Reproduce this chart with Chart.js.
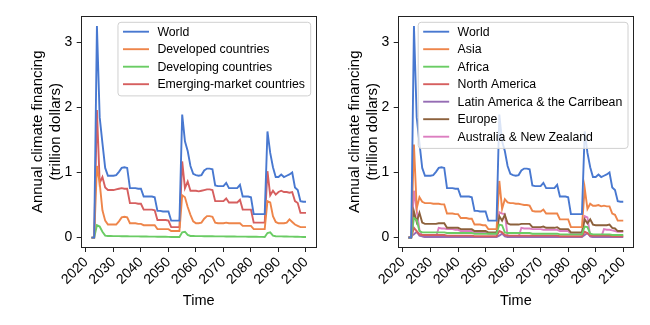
<!DOCTYPE html>
<html><head><meta charset="utf-8">
<script src="https://cdn.jsdelivr.net/npm/chart.js@4.4.0/dist/chart.umd.min.js"></script>
<style>
html,body{margin:0;padding:0;background:#fff;width:650px;height:325px;overflow:hidden}
canvas{position:absolute;top:0}
#c1{left:0}
#c2{left:325px}
</style></head><body>
<canvas id="c1" width="325" height="325"></canvas>
<canvas id="c2" width="325" height="325"></canvas>
<script>
// ---- data (2022 .. 2100, yearly) ----
const years = [
 2022,2023,2024,2025,2026,2027,2028,2029,2030,2031,
 2032,2033,2034,2035,2036,2037,2038,2039,2040,2041,
 2042,2043,2044,2045,2046,2047,2048,2049,2050,2051,
 2052,2053,2054,2055,2056,2057,2058,2059,2060,2061,
 2062,2063,2064,2065,2066,2067,2068,2069,2070,2071,
 2072,2073,2074,2075,2076,2077,2078,2079,2080,2081,
 2082,2083,2084,2085,2086,2087,2088,2089,2090,2091,
 2092,2093,2094,2095,2096,2097,2098,2099,2100];
const xTicks = [2020,2030,2040,2050,2060,2070,2080,2090,2100];
const yTicks = [0,1,2,3];

const world = [
 0,0,3.25,1.85,1.45,1.07,0.95,0.95,0.95,0.96,
 1.01,1.07,1.08,1.07,0.76,0.76,0.76,0.75,0.75,0.63,
 0.63,0.63,0.63,0.62,0.41,0.41,0.40,0.40,0.40,0.26,
 0.26,0.26,0.26,1.89,1.48,1.33,1.10,0.98,0.96,0.95,
 0.96,1.03,1.06,1.06,1.05,0.80,0.79,0.79,0.79,0.84,
 0.76,0.76,0.76,0.76,0.81,0.63,0.63,0.63,0.62,0.36,
 0.36,0.36,0.36,0.36,1.63,1.30,1.08,0.93,0.93,0.97,
 0.93,0.95,0.97,1.00,0.77,0.73,0.56,0.55,0.55];
const developed = [
 0,0,1.10,0.84,0.42,0.26,0.20,0.20,0.20,0.20,
 0.25,0.31,0.32,0.31,0.22,0.22,0.22,0.21,0.21,0.19,
 0.19,0.19,0.19,0.19,0.13,0.13,0.13,0.13,0.13,0.10,
 0.10,0.10,0.10,0.65,0.62,0.47,0.35,0.25,0.22,0.22,
 0.23,0.29,0.33,0.33,0.32,0.23,0.22,0.22,0.22,0.23,
 0.22,0.22,0.22,0.22,0.22,0.18,0.18,0.18,0.18,0.13,
 0.13,0.13,0.13,0.13,0.56,0.54,0.33,0.24,0.22,0.22,
 0.22,0.23,0.28,0.24,0.20,0.18,0.16,0.16,0.16];
const developing = [
 0,0,0.19,0.17,0.09,0.03,0.025,0.024,0.023,0.022,
 0.022,0.021,0.021,0.020,0.019,0.019,0.018,0.018,0.017,0.016,
 0.016,0.015,0.015,0.014,0.013,0.013,0.012,0.012,0.011,0.010,
 0.010,0.010,0.010,0.08,0.09,0.04,0.025,0.024,0.023,0.022,
 0.022,0.021,0.021,0.020,0.020,0.019,0.019,0.018,0.018,0.017,
 0.017,0.016,0.016,0.015,0.015,0.014,0.014,0.013,0.013,0.012,
 0.012,0.011,0.011,0.010,0.07,0.08,0.03,0.020,0.019,0.018,
 0.017,0.016,0.015,0.014,0.013,0.012,0.011,0.010,0.010];
const emerging = [
 0,0,1.96,0.84,0.93,0.77,0.73,0.73,0.73,0.74,
 0.75,0.76,0.75,0.75,0.53,0.53,0.53,0.52,0.52,0.43,
 0.43,0.43,0.43,0.42,0.27,0.27,0.27,0.27,0.26,0.16,
 0.16,0.16,0.16,1.17,0.76,0.86,0.72,0.72,0.72,0.71,
 0.72,0.73,0.74,0.74,0.73,0.56,0.56,0.56,0.56,0.60,
 0.54,0.54,0.54,0.54,0.58,0.43,0.43,0.43,0.43,0.23,
 0.23,0.23,0.23,0.23,1.02,0.65,0.72,0.66,0.70,0.72,
 0.70,0.70,0.69,0.70,0.56,0.53,0.38,0.38,0.38];

const asia = [
 0,0,1.43,0.45,0.62,0.55,0.53,0.53,0.53,0.52,
 0.52,0.52,0.51,0.51,0.37,0.37,0.37,0.36,0.36,0.30,
 0.30,0.30,0.29,0.29,0.20,0.20,0.20,0.19,0.19,0.13,
 0.13,0.13,0.13,0.87,0.44,0.59,0.54,0.53,0.53,0.52,
 0.52,0.51,0.50,0.50,0.49,0.41,0.40,0.40,0.40,0.43,
 0.37,0.37,0.37,0.37,0.37,0.28,0.28,0.28,0.28,0.16,
 0.16,0.16,0.16,0.16,0.76,0.44,0.52,0.49,0.49,0.50,
 0.48,0.49,0.48,0.48,0.37,0.35,0.26,0.26,0.26];
const africa = [
 0,0,0.30,0.27,0.10,0.08,0.08,0.08,0.08,0.08,
 0.08,0.08,0.08,0.08,0.07,0.07,0.07,0.07,0.07,0.07,
 0.07,0.07,0.07,0.07,0.06,0.06,0.06,0.06,0.06,0.06,
 0.06,0.06,0.06,0.20,0.19,0.08,0.07,0.07,0.07,0.07,
 0.07,0.07,0.07,0.07,0.07,0.06,0.06,0.06,0.06,0.06,
 0.06,0.06,0.06,0.06,0.06,0.05,0.05,0.05,0.05,0.05,
 0.05,0.05,0.05,0.05,0.17,0.16,0.06,0.05,0.05,0.05,
 0.05,0.05,0.05,0.05,0.04,0.04,0.04,0.04,0.04];
const northAmerica = [
 0,0,0.15,0.10,0.05,0.04,0.04,0.04,0.04,0.04,
 0.04,0.04,0.04,0.04,0.03,0.03,0.03,0.03,0.03,0.03,
 0.03,0.03,0.03,0.03,0.02,0.02,0.02,0.02,0.02,0.02,
 0.02,0.02,0.02,0.10,0.08,0.04,0.03,0.03,0.03,0.03,
 0.03,0.03,0.03,0.03,0.03,0.03,0.03,0.03,0.03,0.03,
 0.03,0.03,0.03,0.03,0.03,0.02,0.02,0.02,0.02,0.02,
 0.02,0.02,0.02,0.02,0.09,0.07,0.03,0.03,0.03,0.03,
 0.03,0.03,0.03,0.03,0.02,0.02,0.02,0.02,0.02];
const latinAmerica = [
 0,0.02,0.05,0.09,0.03,0.02,0.01,0.01,0.01,0.01,
 0.01,0.01,0.01,0.01,0.01,0.01,0.01,0.01,0.01,0.01,
 0.01,0.01,0.01,0.01,0.01,0.01,0.01,0.01,0.01,0.01,
 0.01,0.01,0.01,0.03,0.06,0.02,0.01,0.01,0.01,0.01,
 0.01,0.01,0.01,0.01,0.01,0.01,0.01,0.01,0.01,0.01,
 0.01,0.01,0.01,0.01,0.01,0.01,0.01,0.01,0.01,0.01,
 0.01,0.01,0.01,0.01,0.04,0.07,0.02,0.01,0.01,0.01,
 0.01,0.01,0.01,0.01,0.01,0.01,0.01,0.01,0.01];
const europe = [
 0,0,0.40,0.24,0.38,0.23,0.21,0.21,0.21,0.21,
 0.21,0.22,0.22,0.22,0.15,0.15,0.15,0.15,0.15,0.13,
 0.13,0.13,0.13,0.13,0.10,0.10,0.10,0.10,0.10,0.08,
 0.08,0.08,0.08,0.33,0.26,0.35,0.22,0.20,0.20,0.20,
 0.20,0.21,0.21,0.21,0.21,0.16,0.16,0.16,0.16,0.17,
 0.15,0.15,0.15,0.15,0.16,0.13,0.13,0.13,0.13,0.08,
 0.08,0.08,0.08,0.08,0.28,0.22,0.28,0.20,0.19,0.19,
 0.19,0.19,0.19,0.20,0.15,0.14,0.10,0.10,0.10];
const australiaNZ = [
 0,0,0.72,0.42,0.12,0.02,0.01,0.01,0.01,0.01,
 0.01,0.15,0.14,0.14,0.13,0.13,0.13,0.12,0.12,0.10,
 0.10,0.10,0.10,0.10,0.08,0.08,0.08,0.08,0.08,0.06,
 0.06,0.06,0.06,0.39,0.37,0.36,0.03,0.01,0.01,0.01,
 0.01,0.15,0.14,0.14,0.14,0.13,0.13,0.13,0.13,0.12,
 0.12,0.12,0.12,0.12,0.12,0.10,0.10,0.10,0.10,0.06,
 0.06,0.06,0.06,0.06,0.33,0.31,0.02,0.01,0.01,0.01,
 0.01,0.13,0.12,0.12,0.11,0.10,0.09,0.09,0.09];

// ---- style ----
const FONT = "'Liberation Sans', Arial, sans-serif";
const C = {blue:'#4878d0', orange:'#ee854a', green:'#6acc64', red:'#d65f5f',
           purple:'#956cb4', brown:'#8c613c', pink:'#dc7ec0'};

function pts(arr){ return years.map((y,i)=>({x:y, y:arr[i]})); }
function ds(label, arr, color){
  return {label, data: pts(arr), borderColor: color, backgroundColor: color,
          borderWidth: 1.9, pointRadius: 0, tension: 0, fill: false};
}

const framePlugin = {
  id: 'frameLegend',
  afterDatasetsDraw(chart){
    const ctx = chart.ctx, a = chart.chartArea;
    const items = chart.data.datasets;
    ctx.save();
    ctx.font = "12.3px " + FONT;
    let tw = 0;
    items.forEach(d => { tw = Math.max(tw, ctx.measureText(d.label).width); });
    const rowH = 17.5;
    const bw = 39.4 + tw + 5.7;
    const bh = items.length * rowH + 3.6;
    const bx = a.right - 6 - bw;
    const by = a.top + 6.7;
    const r = 3;
    ctx.beginPath();
    ctx.moveTo(bx + r, by);
    ctx.lineTo(bx + bw - r, by); ctx.arcTo(bx + bw, by, bx + bw, by + r, r);
    ctx.lineTo(bx + bw, by + bh - r); ctx.arcTo(bx + bw, by + bh, bx + bw - r, by + bh, r);
    ctx.lineTo(bx + r, by + bh); ctx.arcTo(bx, by + bh, bx, by + bh - r, r);
    ctx.lineTo(bx, by + r); ctx.arcTo(bx, by, bx + r, by, r);
    ctx.closePath();
    ctx.fillStyle = 'rgba(255,255,255,0.8)';
    ctx.fill();
    ctx.strokeStyle = '#d0d0d0';
    ctx.lineWidth = 1;
    ctx.stroke();
    items.forEach((d, i) => {
      const cy = by + 9.4 + i * rowH;
      ctx.beginPath();
      ctx.moveTo(bx + 5, cy); ctx.lineTo(bx + 31, cy);
      ctx.strokeStyle = d.borderColor; ctx.lineWidth = 1.9; ctx.stroke();
      ctx.fillStyle = '#000';
      ctx.textBaseline = 'middle';
      ctx.textAlign = 'left';
      ctx.fillText(d.label, bx + 39.4, cy + 0.5);
    });
    ctx.restore();
  },
  afterDraw(chart){
    const ctx = chart.ctx, a = chart.chartArea;
    ctx.save();
    ctx.strokeStyle = '#222';
    ctx.lineWidth = 1;
    const l = Math.round(a.left) + 0.5, t = Math.round(a.top) + 0.5;
    const rr = Math.round(a.right) - 0.5, b = Math.round(a.bottom) - 0.5;
    ctx.strokeRect(l, t, rr - l, b - t);
    ctx.restore();
  }
};

function makeChart(id, datasets, plotLeft, plotRight, titlePad){
  const W = 325, H = 325, TOP = 15.6, BOTTOM = 248;
  return new Chart(document.getElementById(id), {
    type: 'line',
    data: {datasets},
    options: {
      responsive: false, animation: false, devicePixelRatio: 1,
      layout: {padding: {left: 0, top: TOP, right: W - plotRight, bottom: 0}},
      plugins: {legend: {display: false}, tooltip: {enabled: false}},
      scales: {
        x: {
          type: 'linear', min: 2018.1, max: 2103.9,
          afterBuildTicks: s => { s.ticks = xTicks.map(v => ({value: v})); },
          afterFit: s => { s.height = H - BOTTOM; },
          ticks: {autoSkip: false, maxRotation: 45, minRotation: 45, color: '#000',
                  font: {family: FONT, size: 14}, padding: 2,
                  callback: v => String(v)},
          grid: {drawOnChartArea: false, drawTicks: true, tickLength: 4, color: '#222'},
          border: {display: false},
          title: {display: true, text: 'Time', color: '#000',
                  font: {family: FONT, size: 14.5}, padding: {top: 0, bottom: 15.5}}
        },
        y: {
          type: 'linear', min: -0.16, max: 3.41,
          afterBuildTicks: s => { s.ticks = yTicks.map(v => ({value: v})); },
          afterFit: s => { s.width = plotLeft; },
          ticks: {color: '#000', font: {family: FONT, size: 14}, padding: 4.5,
                  callback: v => String(v)},
          grid: {drawOnChartArea: false, drawTicks: true, tickLength: 4, color: '#222'},
          border: {display: false},
          title: {display: true, text: ['Annual climate financing', '(trillion dollars)'],
                  color: '#000', font: {family: FONT, size: 15, lineHeight: 1.15},
                  padding: {top: titlePad, bottom: 0}}
        }
      }
    },
    plugins: [framePlugin]
  });
}

makeChart('c1', [
  ds('World', world, C.blue),
  ds('Developed countries', developed, C.orange),
  ds('Developing countries', developing, C.green),
  ds('Emerging-market countries', emerging, C.red)
], 80.7, 316.7, 29.5);

makeChart('c2', [
  ds('World', world, C.blue),
  ds('Asia', asia, C.orange),
  ds('Africa', africa, C.green),
  ds('North America', northAmerica, C.red),
  ds('Latin America & the Carribean', latinAmerica, C.purple),
  ds('Europe', europe, C.brown),
  ds('Australia & New Zealand', australiaNZ, C.pink)
], 72.7, 309, 21.5);
</script>
</body></html>
